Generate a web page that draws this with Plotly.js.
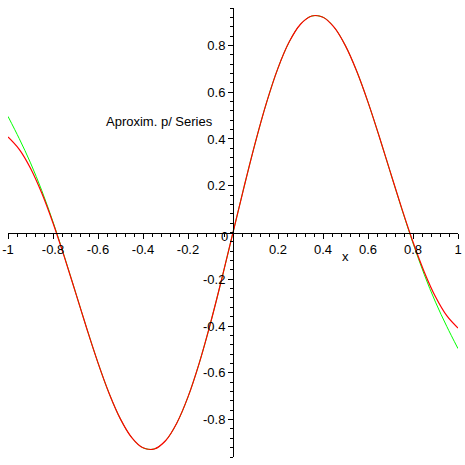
<!DOCTYPE html>
<html>
<head>
<meta charset="utf-8">
<script src="https://cdn.plot.ly/plotly-3.0.1.min.js"></script>
<style>
  html, body { margin: 0; padding: 0; background: #fff; }
  #plot { width: 465px; height: 465px; }
</style>
</head>
<body>
<div id="plot"></div>
<script>
// sample positions along x
const xs = [-1, -0.95, -0.9, -0.85, -0.8, -0.75, -0.7, -0.65, -0.6, -0.55, -0.5,
  -0.45, -0.4, -0.35, -0.3, -0.25, -0.2, -0.15, -0.1, -0.05, 0,
  0.05, 0.1, 0.15, 0.2, 0.25, 0.3, 0.35, 0.4, 0.45, 0.5,
  0.55, 0.6, 0.65, 0.7, 0.75, 0.8, 0.85, 0.9, 0.95, 1];

// function curve (red)
const funcY = [0.40890, 0.35591, 0.27508, 0.16865, 0.04067, -0.10326, -0.25621, -0.41038, -0.55749, -0.68926, -0.79798,
  -0.87690, -0.92067, -0.92570, -0.89041, -0.81531, -0.70306, -0.55830, -0.38747, -0.19842, 0,
  0.19842, 0.38747, 0.55830, 0.70306, 0.81531, 0.89041, 0.92570, 0.92067, 0.87690, 0.79798,
  0.68926, 0.55749, 0.41038, 0.25621, 0.10326, -0.04067, -0.16865, -0.27508, -0.35591, -0.40890];

// series approximation (green)
const seriesY = [0.49650, 0.40133, 0.29781, 0.17957, 0.04568, -0.10108, -0.25531, -0.41004, -0.55737, -0.68922, -0.79797,
  -0.87690, -0.92067, -0.92570, -0.89041, -0.81531, -0.70306, -0.55830, -0.38747, -0.19842, 0,
  0.19842, 0.38747, 0.55830, 0.70306, 0.81531, 0.89041, 0.92570, 0.92067, 0.87690, 0.79797,
  0.68922, 0.55737, 0.41004, 0.25531, 0.10108, -0.04568, -0.17957, -0.29781, -0.40133, -0.49650];

const xTickVals = [-1, -0.8, -0.6, -0.4, -0.2, 0.2, 0.4, 0.6, 0.8, 1];
const xTickText = ["-1", "-0.8", "-0.6", "-0.4", "-0.2", "0.2", "0.4", "0.6", "0.8", "1"];
const yTickVals = [-0.8, -0.6, -0.4, -0.2, 0.2, 0.4, 0.6, 0.8];
const yTickText = ["-0.8", "-0.6", "-0.4", "-0.2", "0.2", "0.4", "0.6", "0.8"];

const font = { family: "Liberation Sans, Arial, sans-serif", size: 13, color: "#000" };

const traces = [
  {
    x: xs, y: seriesY, type: 'scatter', mode: 'lines',
    line: { color: '#00ff00', width: 1, shape: 'spline', smoothing: 1 },
    hoverinfo: 'skip'
  },
  {
    x: xs, y: funcY, type: 'scatter', mode: 'lines',
    line: { color: '#ff0000', width: 1.2, shape: 'spline', smoothing: 1 },
    hoverinfo: 'skip'
  }
];

const layout = {
  width: 465, height: 465,
  margin: { l: 8, r: 7, t: 7.5, b: 7.5 },
  paper_bgcolor: '#fff', plot_bgcolor: '#fff',
  showlegend: false,
  font: font,
  xaxis: {
    range: [-1, 1], anchor: 'free', position: 0.5,
    showline: true, linecolor: '#000', linewidth: 1,
    showgrid: false, zeroline: false,
    ticks: 'outside', ticklen: 5, tickcolor: '#000', tickwidth: 1,
    tickvals: xTickVals, ticktext: xTickText,
    minor: { dtick: 0.04, ticks: 'outside', ticklen: 3, tickcolor: '#000', showgrid: false },
    tickfont: font
  },
  yaxis: {
    range: [-0.96, 0.96], anchor: 'free', position: 0.5,
    showline: true, linecolor: '#000', linewidth: 1,
    showgrid: false, zeroline: false,
    ticks: 'outside', ticklen: 5, tickcolor: '#000', tickwidth: 1,
    tickvals: yTickVals, ticktext: yTickText,
    minor: { dtick: 0.04, ticks: 'outside', ticklen: 3, tickcolor: '#000', showgrid: false },
    tickfont: font
  },
  annotations: [
    { x: -0.327, y: 0.473, xref: 'x', yref: 'y', text: 'Aproxim. p/ Series', showarrow: false, font: font },
    { x: 0.5, y: -0.102, xref: 'x', yref: 'y', text: 'x', showarrow: false, font: font },
    { x: -0.04, y: -0.018, xref: 'x', yref: 'y', text: '0', showarrow: false, font: font }
  ]
};

Plotly.newPlot('plot', traces, layout, { staticPlot: true });
</script>
</body>
</html>
